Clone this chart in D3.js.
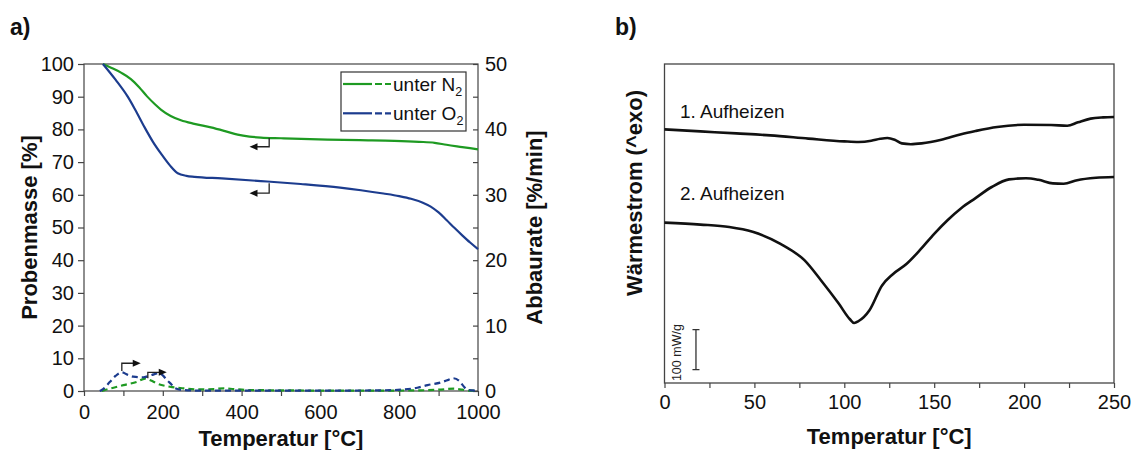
<!DOCTYPE html>
<html>
<head>
<meta charset="utf-8">
<script src="https://cdn.jsdelivr.net/npm/d3@7"></script>
<style>
  html, body { margin: 0; padding: 0; background: #fff; }
  svg { display: block; font-family: "Liberation Sans", Arial, sans-serif; }
</style>
</head>
<body>
<svg id="chart" width="1135" height="450"></svg>
<script>
// ---- a) TGA: sample mass [%] (left axis) and mass-loss rate [%/min] (right axis)
const tgaN2 = [[48,100],[70,98.8],[95,97.3],[119,95.4],[140,92.9],[160,90.1],[180,87.7],[196,86.0],[220,84.1],[246,82.8],[280,81.7],[322,80.6],[360,79.4],[390,78.4],[420,77.8],[449,77.5],[500,77.3],[618,76.9],[700,76.7],[788,76.5],[850,76.2],[890,75.9],[920,75.3],[960,74.6],[1000,73.9]];
const tgaO2 = [[48,100],[80,95.2],[111,90],[130,86],[153,80.8],[175,76.2],[196,72.5],[218,69.0],[238,66.6],[260,65.8],[280,65.5],[350,65.0],[449,64.2],[550,63.3],[650,62.2],[703,61.4],[760,60.4],[800,59.6],[830,58.8],[860,57.6],[880,56.4],[900,54.6],[920,52.3],[940,49.9],[960,47.6],[980,45.4],[1000,43.4]];
const dtgN2 = [[45,0],[53,0.15],[75,0.5],[100,0.9],[134,1.4],[155,1.9],[170,1.6],[185,1.15],[218,0.65],[252,0.4],[290,0.25],[330,0.3],[355,0.4],[380,0.3],[420,0.15],[500,0.1],[700,0.05],[850,0.1],[900,0.2],[940,0.35],[960,0.2],[980,0.05],[1000,0.05]];
const dtgO2 = [[40,0],[45,0.15],[66,1.4],[80,2.3],[96,2.85],[110,2.5],[125,2.2],[151,2.1],[172,2.45],[189,2.7],[200,2.4],[210,1.7],[222,1.0],[231,0.45],[252,0.15],[300,0.05],[400,0.05],[600,0.05],[750,0.1],[804,0.2],[846,0.5],[872,0.9],[905,1.3],[925,1.7],[937,1.95],[953,1.5],[965,0.6],[975,0.15],[1000,0.05]];
const seriesNames = ["unter N", "unter O"];
const seriesSubs = ["2", "2"];
const seriesColors = ["#1e9a22", "#1c3c8e"];
const xTicksA = [0,100,200,300,400,500,600,700,800,900,1000];
const yTicksLeft = [0,10,20,30,40,50,60,70,80,90,100];
const yTicksRight = [0,5,10,15,20,25,30,35,40,45,50];
// bent arrows: which axis, from (t, v0) to v1 vertically, then horizontally to t1
const axisArrows = [
  { axis: "left",  t: 470, v0: 77.4, v1: 74.7, t1: 420 },
  { axis: "left",  t: 470, v0: 63.5, v1: 60.5, t1: 420 },
  { axis: "right", t: 96,  v0: 3.06, v1: 4.24, t1: 144 },
  { axis: "right", t: 162, v0: 1.94, v1: 2.86, t1: 210 }
];

// ---- b) DSC: heat flow, 1st and 2nd heating
const dscHeat1 = [[0,634],[20,629],[40,624],[58.8,619],[80,611],[100,604],[108,602.5],[115,605.5],[120,610.5],[124,612.5],[128,608],[132,599],[137,597],[143,599],[154,608],[165,622],[173,630],[185,640],[200,645.5],[215,645],[224,643],[230,651.7],[237,661],[244,664],[250,665]];
const dscHeat2 = [[0,401],[20,396],[36,390],[49,378],[64.5,348],[77.8,307],[87,257],[97,198],[103,160],[105.5,150],[108,155],[114,182],[121,244],[127,272],[134.7,298],[142,332],[150,373],[157.4,407],[165,437],[172.6,461],[182,490],[191.6,509],[201,512],[208,508],[216,499],[222,498],[229.5,507],[240,513],[250,515]];
const curveLabels = [
  { text: "1. Aufheizen", t: 8.6, v: 662 },
  { text: "2. Aufheizen", t: 8.6, v: 457.5 }
];
const xTicksB = [0,25,50,75,100,125,150,175,200,225,250];
const scaleBar = { t: 17.5, v0: 33.5, v1: 133.5, label: "100 mW/g" };

const svg = d3.select("#chart");
const frameColor = "#444";
const tickFont = 20;
const titleFont = 22;

// ================= Panel a =================
const xA = d3.scaleLinear().domain([0, 1000]).range([84, 478]);
const yL = d3.scaleLinear().domain([0, 100]).range([391, 64]);
const yR = d3.scaleLinear().domain([0, 50]).range([391, 64]);

const gA = svg.append("g");

function styleAxis(g) {
  g.select(".domain").remove();
  g.selectAll(".tick line").attr("stroke", frameColor).attr("stroke-width", 1.2);
  g.selectAll(".tick text").attr("font-size", tickFont).attr("fill", "#111")
    .attr("font-family", "Liberation Sans, Arial, sans-serif");
}

gA.append("g").attr("transform", `translate(0,${yL(0)})`)
  .call(d3.axisBottom(xA).tickValues(xTicksA).tickSize(5).tickPadding(9)
    .tickFormat(d => d % 200 === 0 ? d : ""))
  .call(styleAxis);
gA.append("g").attr("transform", `translate(${xA(0)},0)`)
  .call(d3.axisLeft(yL).tickValues(yTicksLeft).tickSize(6).tickPadding(4))
  .call(styleAxis);
gA.append("g").attr("transform", `translate(${xA(1000)},0)`)
  .call(d3.axisRight(yR).tickValues(yTicksRight).tickSize(-5).tickPadding(7)
    .tickFormat(d => d % 10 === 0 ? d : ""))
  .call(styleAxis);

gA.append("rect")
  .attr("x", xA(0)).attr("y", yL(100))
  .attr("width", xA(1000) - xA(0)).attr("height", yL(0) - yL(100))
  .attr("fill", "none").attr("stroke", frameColor).attr("stroke-width", 1.2);

const lineL = d3.line().x(d => xA(d[0])).y(d => yL(d[1])).curve(d3.curveMonotoneX);
const lineR = d3.line().x(d => xA(d[0])).y(d => yR(d[1])).curve(d3.curveMonotoneX);

[dtgN2, dtgO2].forEach((s, i) => {
  gA.append("path").attr("d", lineR(s)).attr("fill", "none")
    .attr("stroke", seriesColors[i]).attr("stroke-width", 2.2)
    .attr("stroke-dasharray", "6,4");
});
[tgaN2, tgaO2].forEach((s, i) => {
  gA.append("path").attr("d", lineL(s)).attr("fill", "none")
    .attr("stroke", seriesColors[i]).attr("stroke-width", 2.2);
});

// bent arrows pointing to the axis each curve belongs to
axisArrows.forEach(a => {
  const ys = a.axis === "left" ? yL : yR;
  const x0 = xA(a.t), y0 = ys(a.v0), y1 = ys(a.v1), x1 = xA(a.t1);
  const dir = Math.sign(x1 - x0);
  gA.append("path")
    .attr("d", `M${x0},${y0}V${y1}H${x1 - dir * 6}`)
    .attr("fill", "none").attr("stroke", "#222").attr("stroke-width", 1.3);
  gA.append("path")
    .attr("d", `M${x1},${y1}L${x1 - dir * 8},${y1 - 3.5}L${x1 - dir * 8},${y1 + 3.5}Z`)
    .attr("fill", "#111");
});

// legend: solid sample (mass) followed by dashed sample (rate)
const leg = gA.append("g").attr("transform", "translate(341,72)");
leg.append("rect").attr("width", 125).attr("height", 59)
  .attr("fill", "#fff").attr("stroke", "#333").attr("stroke-width", 1.2);
seriesNames.forEach((name, i) => {
  const y = 12 + i * 29.3;
  leg.append("line").attr("x1", 2).attr("x2", 31).attr("y1", y).attr("y2", y)
    .attr("stroke", seriesColors[i]).attr("stroke-width", 2.2);
  leg.append("line").attr("x1", 34).attr("x2", 50).attr("y1", y).attr("y2", y)
    .attr("stroke", seriesColors[i]).attr("stroke-width", 2.2)
    .attr("stroke-dasharray", "7,3");
  const t = leg.append("text").attr("x", 52).attr("y", y + 6.5)
    .attr("font-size", 19).attr("fill", "#111");
  t.append("tspan").text(name);
  t.append("tspan").attr("font-size", 12.5).attr("dy", 5).text(seriesSubs[i]);
});

// axis titles
gA.append("text").attr("x", (xA(0) + xA(1000)) / 2).attr("y", 446)
  .attr("text-anchor", "middle").attr("font-weight", "bold").attr("font-size", titleFont)
  .attr("fill", "#111").text("Temperatur [°C]");
gA.append("text").attr("transform", `translate(37,${(yL(0) + yL(100)) / 2}) rotate(-90)`)
  .attr("text-anchor", "middle").attr("font-weight", "bold").attr("font-size", titleFont)
  .attr("fill", "#111").text("Probenmasse [%]");
gA.append("text").attr("transform", `translate(542,${(yL(0) + yL(100)) / 2}) rotate(-90)`)
  .attr("text-anchor", "middle").attr("font-weight", "bold").attr("font-size", titleFont)
  .attr("fill", "#111").text("Abbaurate [%/min]");
gA.append("text").attr("x", 10).attr("y", 35)
  .attr("font-weight", "bold").attr("font-size", 23).attr("fill", "#111").text("a)");

// ================= Panel b =================
const xB = d3.scaleLinear().domain([0, 250]).range([664.5, 1114]);
const yB = d3.scaleLinear().domain([0, 797.5]).range([383, 64]);
const gB = svg.append("g");

gB.append("g").attr("transform", `translate(0,${yB(0)})`)
  .call(d3.axisBottom(xB).tickValues(xTicksB).tickSize(5).tickPadding(7)
    .tickFormat(d => d % 50 === 0 ? d : ""))
  .call(styleAxis);

gB.append("rect")
  .attr("x", xB(0)).attr("y", yB(797.5))
  .attr("width", xB(250) - xB(0)).attr("height", yB(0) - yB(797.5))
  .attr("fill", "none").attr("stroke", frameColor).attr("stroke-width", 1.3);

const lineB = d3.line().x(d => xB(d[0])).y(d => yB(d[1])).curve(d3.curveMonotoneX);
[dscHeat1, dscHeat2].forEach(s => {
  gB.append("path").attr("d", lineB(s)).attr("fill", "none")
    .attr("stroke", "#111").attr("stroke-width", 2.6).attr("stroke-linejoin", "round");
});

curveLabels.forEach(l => {
  gB.append("text").attr("x", xB(l.t)).attr("y", yB(l.v))
    .attr("font-size", 19).attr("fill", "#111").text(l.text);
});

// scale bar for heat flow
const sbx = xB(scaleBar.t);
gB.append("path")
  .attr("d", `M${sbx - 3.5},${yB(scaleBar.v1)}H${sbx + 3.5}M${sbx},${yB(scaleBar.v1)}V${yB(scaleBar.v0)}M${sbx - 3.5},${yB(scaleBar.v0)}H${sbx + 3.5}`)
  .attr("fill", "none").attr("stroke", "#333").attr("stroke-width", 1.3);
gB.append("text")
  .attr("transform", `translate(${sbx - 15},${(yB(scaleBar.v0) + yB(scaleBar.v1)) / 2 + 3}) rotate(-90)`)
  .attr("text-anchor", "middle").attr("font-size", 12.5).attr("fill", "#222").text(scaleBar.label);

gB.append("text").attr("x", (xB(0) + xB(250)) / 2).attr("y", 444)
  .attr("text-anchor", "middle").attr("font-weight", "bold").attr("font-size", titleFont)
  .attr("fill", "#111").text("Temperatur [°C]");
gB.append("text").attr("transform", `translate(642,193) rotate(-90)`)
  .attr("text-anchor", "middle").attr("font-weight", "bold").attr("font-size", titleFont)
  .attr("fill", "#111").text("Wärmestrom (^exo)");
gB.append("text").attr("x", 615).attr("y", 35)
  .attr("font-weight", "bold").attr("font-size", 23).attr("fill", "#111").text("b)");
</script>
</body>
</html>
